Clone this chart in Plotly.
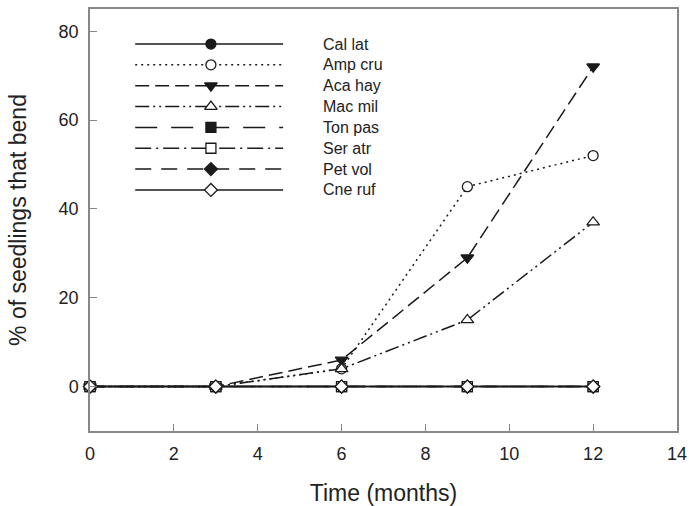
import plotly.graph_objects as go

months = [0, 3, 6, 9, 12]
species = ["Cal lat", "Amp cru", "Aca hay", "Mac mil", "Ton pas", "Ser atr", "Pet vol", "Cne ruf"]
cal_lat = [0, 0, 0, 0, 0]
amp_cru = [0, 0, 4, 45, 52]
aca_hay = [0, 0, 6, 29, 72]
mac_mil = [0, 0, 4, 15, 37]
ton_pas = [0, 0, 0, 0, 0]
ser_atr = [0, 0, 0, 0, 0]
pet_vol = [0, 0, 0, 0, 0]
cne_ruf = [0, 0, 0, 0, 0]
x_ticks = [0, 2, 4, 6, 8, 10, 12, 14]
y_ticks = [0, 20, 40, 60, 80]

series = [cal_lat, amp_cru, aca_hay, mac_mil, ton_pas, ser_atr, pet_vol, cne_ruf]
INK = "#1a1a1a"
FONT = "Liberation Sans, Arial"
styles = [
    dict(dash="solid", symbol="circle", fill=INK),
    dict(dash="2px,4px", symbol="circle", fill="white"),
    dict(dash="14px,6px", symbol="triangle-down", fill=INK),
    dict(dash="14px,4px,2px,4px,2px,4px", symbol="triangle-up", fill="white"),
    dict(dash="22px,14px", symbol="square", fill=INK),
    dict(dash="16px,5px,2px,5px", symbol="square", fill="white"),
    dict(dash="16px,10px", symbol="diamond", fill=INK),
    dict(dash="solid", symbol="diamond", fill="white"),
]

fig = go.Figure()
for name, vals, st in zip(species, series, styles):
    fig.add_trace(go.Scatter(
        x=months, y=vals, name=name, mode="lines+markers",
        line=dict(color=INK, width=1.5, dash=st["dash"]),
        marker=dict(symbol=st["symbol"], size=10 if "triangle" not in st["symbol"] else 11,
                    color=st["fill"], line=dict(color=INK, width=1.3)),
        showlegend=False, cliponaxis=False,
    ))

# Manual legend drawn on an overlay axis (0..1 coordinates of the plot area)
leg_x0, leg_x1, leg_xm = 0.077, 0.329, 0.206
leg_y_top, leg_dy = 0.917, 0.0494
for i, (name, st) in enumerate(zip(species, styles)):
    yy = leg_y_top - i * leg_dy
    fig.add_trace(go.Scatter(
        x=[leg_x0, leg_x1], y=[yy, yy], mode="lines", xaxis="x2", yaxis="y2",
        line=dict(color=INK, width=1.5, dash=st["dash"]), showlegend=False, hoverinfo="skip"))
    fig.add_trace(go.Scatter(
        x=[leg_xm], y=[yy], mode="markers", xaxis="x2", yaxis="y2",
        marker=dict(symbol=st["symbol"], size=10 if "triangle" not in st["symbol"] else 11,
                    color=st["fill"], line=dict(color=INK, width=1.3)),
        showlegend=False, hoverinfo="skip"))
    fig.add_annotation(x=0.393, y=yy, xref="x2", yref="y2", text=name, showarrow=False,
                       xanchor="left", yanchor="middle",
                       font=dict(size=16, color="#222", family=FONT))

axis_common = dict(showline=True, linecolor="#888", linewidth=1.5, mirror=True,
                   ticks="inside", ticklen=7, tickcolor="#888", tickwidth=1.3,
                   showgrid=False, zeroline=False, ticklabelstandoff=6, automargin=False,
                   tickfont=dict(size=18, color="#222", family=FONT))

fig.update_layout(
    width=689, height=506,
    margin=dict(l=90, r=12, t=9, b=75, autoexpand=False),
    paper_bgcolor="white", plot_bgcolor="white",
    xaxis=dict(range=[0, 14], tickvals=x_ticks, **axis_common,
               title=dict(text="Time (months)", standoff=22,
                          font=dict(size=23, color="#222", family=FONT))),
    yaxis=dict(range=[-10, 85], tickvals=y_ticks, **axis_common,
               title=dict(text="% of seedlings that bend", standoff=26,
                          font=dict(size=23, color="#222", family=FONT))),
    xaxis2=dict(range=[0, 1], overlaying="x", visible=False, fixedrange=True),
    yaxis2=dict(range=[0, 1], overlaying="y", visible=False, fixedrange=True),
)

fig.write_html("out.html")
